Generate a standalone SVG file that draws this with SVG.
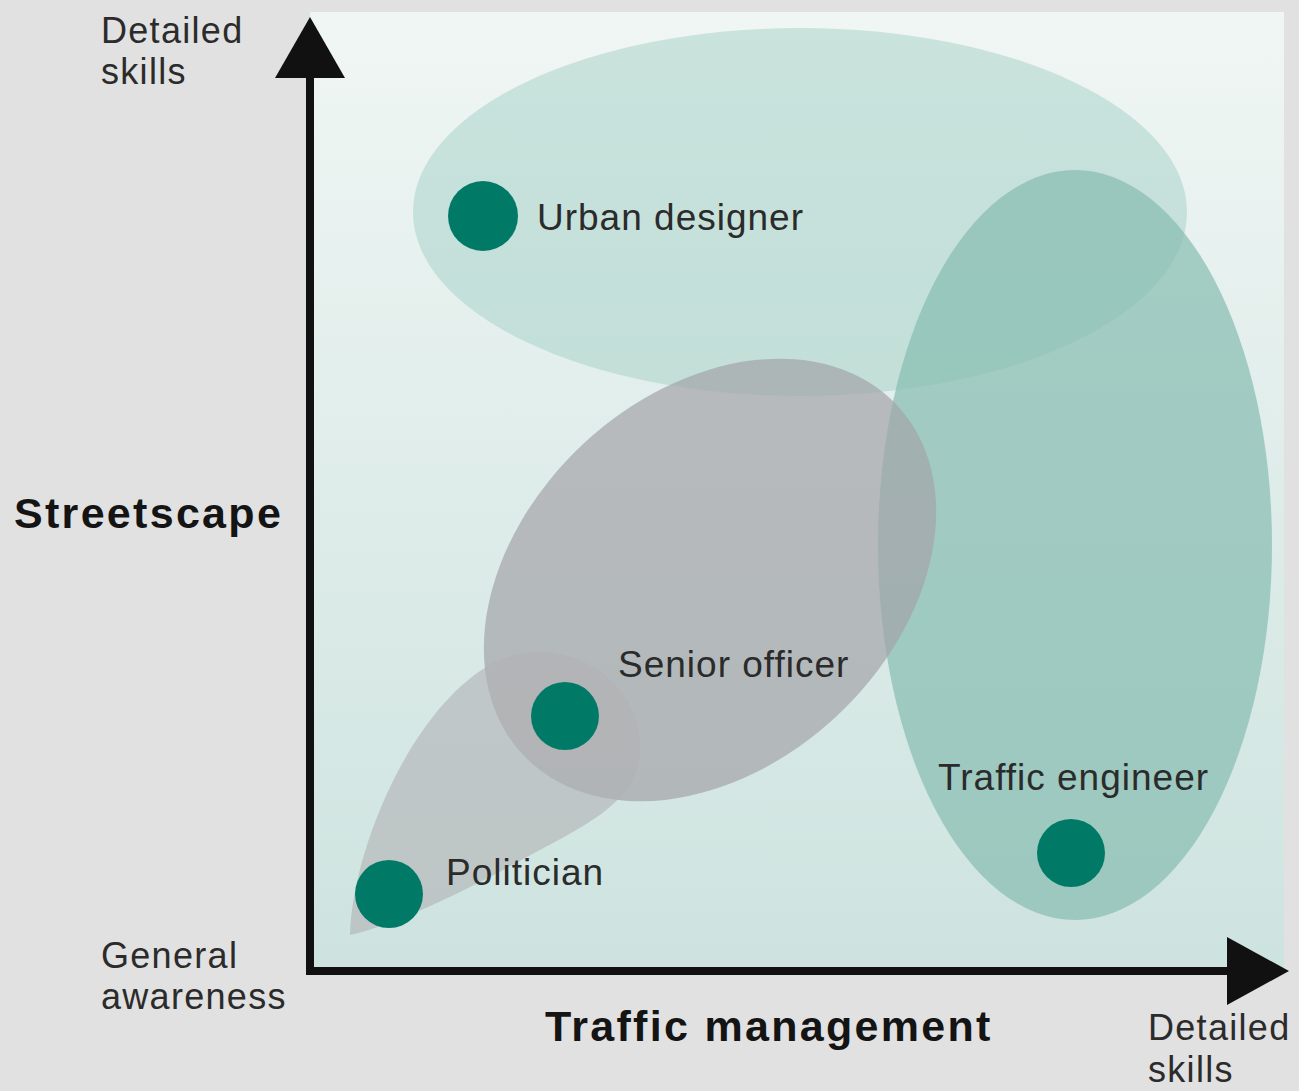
<svg xmlns="http://www.w3.org/2000/svg" width="1299" height="1091" viewBox="0 0 1299 1091">
<defs>
<linearGradient id="panelGrad" x1="0" y1="0" x2="0" y2="1">
<stop offset="0" stop-color="#f0f6f4"/>
<stop offset="1" stop-color="#cde3df"/>
</linearGradient>
<style>
.lbl{font-family:"Liberation Sans",Arial,sans-serif;font-size:37px;fill:#2b2b2b;letter-spacing:1px;}
.axis{font-family:"Liberation Sans",Arial,sans-serif;font-size:36px;fill:#2b2b2b;letter-spacing:1.3px;}
.title{font-family:"Liberation Sans",Arial,sans-serif;font-size:43px;font-weight:bold;fill:#141414;letter-spacing:2.3px;}
.dot{fill:#007a67;}
.axline{stroke:#111;stroke-width:8;fill:none;}
.head{fill:#111;}
</style>
</defs>
<rect x="0" y="0" width="1299" height="1091" fill="#e1e1e1"/>
<rect x="310" y="12" width="974" height="960" fill="url(#panelGrad)"/>

<g id="urban-designer">
<ellipse cx="800" cy="212" rx="387" ry="184" fill="#9ccbc2" fill-opacity="0.45"/>
</g>
<g id="traffic-engineer">
<ellipse cx="1075" cy="545" rx="197" ry="375" fill="#86bcb1" fill-opacity="0.7"/>
</g>
<g id="senior-officer">
<ellipse cx="710" cy="580" rx="256" ry="186" transform="rotate(-43 710 580)" fill="#a4a4a8" fill-opacity="0.7"/>
</g>
<g id="politician">
<path d="M350,935 C352,850 412,705 495,662 C560,632 640,675 640,748 C640,800 592,822 525,858 C462,893 392,926 350,935 Z" fill="#b0b0b4" fill-opacity="0.6"/>
</g>

<g id="dots">
<circle class="dot" cx="483" cy="216" r="35"/>
<circle class="dot" cx="565" cy="716" r="34"/>
<circle class="dot" cx="389" cy="894" r="34"/>
<circle class="dot" cx="1071" cy="853" r="34"/>
</g>

<g id="labels">
<text class="lbl" x="537" y="230">Urban designer</text>
<text class="lbl" x="618" y="677">Senior officer</text>
<text class="lbl" x="938" y="790">Traffic engineer</text>
<text class="lbl" x="446" y="885">Politician</text>
<text class="axis" x="101" y="43">Detailed</text>
<text class="axis" x="101" y="84">skills</text>
<text class="axis" x="101" y="968">General</text>
<text class="axis" x="101" y="1009">awareness</text>
<text class="axis" x="1148" y="1040">Detailed</text>
<text class="axis" x="1148" y="1082">skills</text>
<text class="title" x="14" y="528">Streetscape</text>
<text class="title" x="545" y="1041">Traffic management</text>
</g>

<g id="connectors">
<line class="axline" x1="310" y1="70" x2="310" y2="975"/>
<polygon class="head" points="310,17 275,78 345,78"/>
<line class="axline" x1="306" y1="971" x2="1232" y2="971"/>
<polygon class="head" points="1227,937 1289,971 1227,1005"/>
</g>
</svg>
